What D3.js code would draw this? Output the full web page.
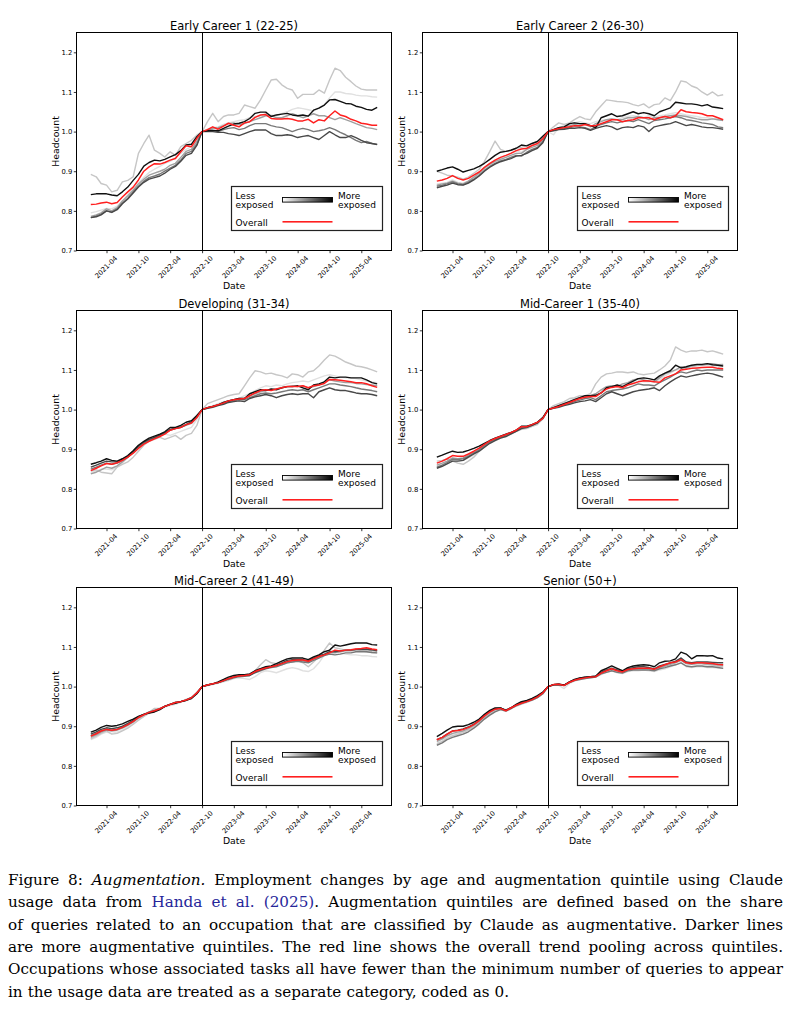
<!DOCTYPE html>
<html>
<head>
<meta charset="utf-8">
<script src="https://cdn.jsdelivr.net/npm/d3@7"></script>
<style>
  body { margin: 0; background: #fff; }
  svg { display: block; }
  text { font-family: "DejaVu Sans", sans-serif; fill: #000; }
  .caption text { font-family: "DejaVu Serif", serif; }
</style>
</head>
<body>
<svg id="fig" width="792" height="1023"></svg>
<script>
// monthly dates, 2021-01 .. 2025-07
const months = d3.timeMonth.range(new Date(2021, 0, 1), new Date(2025, 7, 1));
const tickLabels = ["2021-04", "2021-10", "2022-04", "2022-10", "2023-04", "2023-10", "2024-04", "2024-10", "2025-04"];
const yTicks = [0.7, 0.8, 0.9, 1.0, 1.1, 1.2];
const cutoffLabel = "2022-10";
const titles = ["Early Career 1 (22-25)", "Early Career 2 (26-30)", "Developing (31-34)",
  "Mid-Career 1 (35-40)", "Mid-Career 2 (41-49)", "Senior (50+)"];

// each panel: 6 groups (least -> most exposed) and the overall line
const ec1Groups = [
  [0.795,0.798,0.802,0.806,0.805,0.812,0.825,0.840,0.855,0.870,0.885,
   0.897,0.905,0.912,0.920,0.925,0.935,0.945,0.955,0.962,0.980,1.000,
   1.006,1.010,1.012,1.018,1.022,1.025,1.028,1.030,1.035,1.038,1.040,
   1.045,1.042,1.040,1.045,1.050,1.056,1.060,1.058,1.055,1.052,1.060,
   1.068,1.085,1.100,1.100,1.096,1.095,1.092,1.090,1.090,1.088,1.087],
  [0.892,0.886,0.869,0.865,0.848,0.852,0.873,0.877,0.886,0.945,0.970,
   0.991,0.953,0.945,0.936,0.949,0.940,0.962,0.970,0.978,0.991,1.000,
   1.025,1.046,1.025,1.038,1.042,1.042,1.046,1.067,1.063,1.059,1.080,
   1.105,1.130,1.132,1.118,1.109,1.105,1.084,1.094,1.094,1.094,1.105,
   1.097,1.130,1.160,1.154,1.137,1.126,1.115,1.107,1.105,1.105,1.105],
  [0.786,0.790,0.795,0.805,0.800,0.808,0.825,0.838,0.852,0.868,0.880,
   0.890,0.895,0.900,0.905,0.915,0.920,0.935,0.950,0.955,0.975,1.000,
   1.003,1.008,1.010,1.015,1.020,1.022,1.018,1.020,1.025,1.030,1.035,
   1.040,1.040,1.035,1.035,1.040,1.045,1.040,1.035,1.040,1.045,1.040,
   1.040,1.035,1.030,1.035,1.030,1.025,1.020,1.015,1.010,1.008,1.005],
  [0.783,0.787,0.792,0.800,0.797,0.805,0.820,0.832,0.848,0.862,0.875,
   0.884,0.888,0.893,0.900,0.908,0.915,0.928,0.945,0.950,0.968,1.000,
   1.002,1.003,1.000,1.005,1.008,1.010,1.005,1.008,1.015,1.020,1.020,
   1.020,1.015,1.012,1.010,1.005,1.000,1.005,1.008,1.005,1.000,1.002,
   1.005,1.010,1.005,0.998,0.992,0.985,0.978,0.972,0.975,0.970,0.968],
  [0.783,0.785,0.790,0.800,0.796,0.803,0.818,0.830,0.845,0.860,0.872,
   0.880,0.884,0.888,0.895,0.905,0.912,0.925,0.940,0.945,0.965,1.000,
   1.001,1.000,0.998,0.998,0.995,0.993,0.990,0.995,1.000,1.004,1.004,
   1.004,0.995,0.990,0.990,0.992,0.990,0.985,0.988,0.990,0.985,0.980,
   0.990,1.000,0.992,0.985,0.985,0.990,0.985,0.978,0.972,0.970,0.967],
  [0.841,0.843,0.843,0.843,0.840,0.838,0.848,0.860,0.877,0.892,0.913,
   0.922,0.928,0.926,0.930,0.936,0.942,0.952,0.966,0.968,0.987,1.000,
   1.002,1.003,1.002,1.008,1.014,1.019,1.021,1.025,1.033,1.046,1.049,
   1.049,1.038,1.042,1.044,1.046,1.042,1.040,1.042,1.039,1.054,1.059,
   1.067,1.080,1.081,1.076,1.071,1.070,1.064,1.061,1.056,1.054,1.061]
];
const ec1Overall = [
  0.816,0.817,0.820,0.822,0.818,0.821,0.835,0.848,0.860,0.878,0.900,
  0.911,0.919,0.918,0.922,0.928,0.932,0.949,0.964,0.962,0.983,1.000,
  1.005,1.012,1.006,1.014,1.021,1.016,1.012,1.022,1.025,1.036,1.042,
  1.043,1.033,1.032,1.032,1.033,1.031,1.027,1.027,1.031,1.022,1.030,
  1.027,1.040,1.052,1.042,1.038,1.031,1.027,1.021,1.019,1.016,1.016];

const ec2Groups = [
  [0.868,0.870,0.872,0.878,0.872,0.870,0.875,0.885,0.895,0.905,0.915,
   0.925,0.932,0.938,0.945,0.950,0.948,0.958,0.965,0.968,0.985,1.000,
   0.992,1.010,1.015,1.018,1.022,1.025,1.022,1.020,1.025,1.028,1.030,
   1.032,1.030,1.035,1.038,1.040,1.038,1.035,1.040,1.035,1.040,1.042,
   1.045,1.048,1.045,1.042,1.040,1.038,1.035,1.035,1.033,1.032,1.030],
  [0.900,0.895,0.890,0.888,0.885,0.880,0.885,0.895,0.905,0.925,0.950,
   0.976,0.955,0.950,0.952,0.958,0.960,0.965,0.970,0.975,0.988,1.000,
   1.012,1.022,1.018,1.022,1.030,1.038,1.032,1.030,1.050,1.065,1.080,
   1.078,1.076,1.075,1.073,1.068,1.065,1.070,1.060,1.068,1.070,1.085,
   1.078,1.100,1.128,1.125,1.115,1.110,1.100,1.092,1.100,1.090,1.093],
  [0.865,0.868,0.870,0.875,0.870,0.868,0.875,0.885,0.895,0.908,0.918,
   0.925,0.930,0.935,0.940,0.945,0.945,0.955,0.960,0.965,0.980,1.000,
   1.005,1.010,1.012,1.015,1.018,1.020,1.018,1.012,1.020,1.025,1.030,
   1.032,1.030,1.030,1.035,1.035,1.038,1.035,1.030,1.035,1.035,1.038,
   1.040,1.042,1.040,1.038,1.035,1.032,1.030,1.030,1.032,1.030,1.028],
  [0.862,0.865,0.868,0.873,0.868,0.866,0.872,0.880,0.890,0.902,0.912,
   0.920,0.926,0.930,0.935,0.940,0.938,0.948,0.955,0.960,0.975,1.000,
   1.003,1.006,1.008,1.010,1.012,1.012,1.010,1.005,1.012,1.018,1.022,
   1.025,1.022,1.025,1.028,1.025,1.030,1.025,1.020,1.028,1.030,1.032,
   1.035,1.038,1.035,1.030,1.028,1.025,1.022,1.020,1.018,1.012,1.010],
  [0.858,0.862,0.865,0.870,0.866,0.865,0.870,0.878,0.888,0.900,0.910,
   0.918,0.924,0.928,0.932,0.938,0.940,0.945,0.952,0.958,0.972,1.000,
   1.002,1.005,1.006,1.008,1.008,1.010,1.008,1.003,1.008,1.012,1.015,
   1.012,1.005,1.010,1.012,1.010,1.015,1.012,1.000,1.012,1.015,1.018,
   1.020,1.025,1.020,1.015,1.018,1.015,1.012,1.010,1.010,1.008,1.006],
  [0.900,0.904,0.908,0.911,0.905,0.898,0.902,0.906,0.912,0.920,0.930,
   0.940,0.948,0.950,0.953,0.958,0.966,0.964,0.970,0.975,0.988,1.000,
   1.005,1.010,1.012,1.020,1.022,1.020,1.020,1.015,1.010,1.035,1.040,
   1.045,1.038,1.040,1.045,1.050,1.045,1.048,1.045,1.040,1.050,1.055,
   1.060,1.074,1.072,1.070,1.070,1.068,1.065,1.068,1.062,1.060,1.058]
];
const ec2Overall = [
  0.875,0.878,0.882,0.889,0.882,0.878,0.882,0.890,0.898,0.910,0.920,
  0.928,0.935,0.940,0.945,0.952,0.956,0.958,0.965,0.970,0.982,1.000,
  1.005,1.008,1.010,1.012,1.015,1.015,1.018,1.015,1.015,1.020,1.025,
  1.030,1.030,1.025,1.028,1.030,1.035,1.035,1.035,1.030,1.035,1.038,
  1.035,1.040,1.055,1.050,1.048,1.047,1.045,1.040,1.040,1.035,1.030];

const devGroups = [
  [0.840,0.845,0.850,0.850,0.848,0.855,0.865,0.880,0.895,0.905,0.918,
   0.925,0.930,0.935,0.938,0.935,0.940,0.945,0.950,0.955,0.975,1.000,
   1.005,1.010,1.015,1.020,1.022,1.025,1.028,1.035,1.040,1.048,1.055,
   1.060,1.058,1.062,1.060,1.065,1.068,1.070,1.072,1.070,1.075,1.080,
   1.085,1.088,1.085,1.082,1.080,1.080,1.078,1.075,1.072,1.070,1.068],
  [0.845,0.848,0.842,0.840,0.838,0.855,0.862,0.868,0.880,0.895,0.910,
   0.920,0.925,0.930,0.925,0.930,0.935,0.925,0.935,0.940,0.960,1.000,
   1.015,1.020,1.025,1.030,1.035,1.038,1.040,1.060,1.080,1.098,1.095,
   1.090,1.092,1.088,1.085,1.080,1.090,1.088,1.082,1.095,1.098,1.110,
   1.125,1.138,1.135,1.128,1.120,1.115,1.110,1.108,1.105,1.100,1.095],
  [0.838,0.842,0.848,0.855,0.852,0.858,0.868,0.880,0.892,0.905,0.915,
   0.922,0.928,0.935,0.940,0.948,0.952,0.955,0.960,0.965,0.980,1.000,
   1.005,1.008,1.012,1.018,1.022,1.025,1.028,1.028,1.035,1.040,1.045,
   1.048,1.050,1.052,1.055,1.058,1.060,1.058,1.060,1.055,1.058,1.062,
   1.070,1.075,1.072,1.070,1.068,1.068,1.066,1.065,1.063,1.062,1.060],
  [0.850,0.855,0.860,0.865,0.862,0.865,0.872,0.880,0.892,0.905,0.915,
   0.922,0.928,0.935,0.940,0.948,0.952,0.955,0.962,0.968,0.982,1.000,
   1.004,1.008,1.012,1.015,1.020,1.022,1.025,1.025,1.030,1.035,1.040,
   1.042,1.040,1.042,1.045,1.048,1.050,1.048,1.050,1.045,1.050,1.055,
   1.060,1.065,1.065,1.062,1.060,1.058,1.055,1.052,1.050,1.048,1.045],
  [0.855,0.860,0.865,0.870,0.868,0.868,0.875,0.882,0.895,0.908,0.918,
   0.925,0.930,0.936,0.942,0.950,0.953,0.956,0.962,0.970,0.984,1.000,
   1.003,1.006,1.010,1.013,1.018,1.020,1.022,1.020,1.028,1.032,1.035,
   1.038,1.035,1.030,1.035,1.038,1.040,1.038,1.040,1.040,1.030,1.045,
   1.050,1.055,1.050,1.048,1.048,1.045,1.042,1.040,1.040,1.038,1.035],
  [0.862,0.866,0.870,0.876,0.872,0.870,0.876,0.884,0.896,0.910,0.920,
   0.928,0.933,0.938,0.944,0.955,0.955,0.960,0.968,0.972,0.985,1.000,
   1.005,1.008,1.012,1.018,1.022,1.025,1.028,1.028,1.040,1.045,1.050,
   1.048,1.052,1.050,1.055,1.058,1.058,1.060,1.055,1.050,1.062,1.065,
   1.070,1.082,1.080,1.082,1.082,1.080,1.080,1.080,1.075,1.068,1.065]
];
const devOverall = [
  0.846,0.852,0.858,0.864,0.862,0.866,0.872,0.880,0.890,0.902,0.913,
  0.920,0.926,0.932,0.938,0.948,0.952,0.955,0.962,0.966,0.980,1.000,
  1.005,1.008,1.012,1.017,1.022,1.025,1.027,1.028,1.035,1.042,1.048,
  1.050,1.048,1.052,1.055,1.058,1.058,1.058,1.060,1.055,1.060,1.062,
  1.066,1.076,1.075,1.074,1.072,1.070,1.068,1.068,1.065,1.060,1.056];

const mc1Groups = [
  [0.858,0.862,0.868,0.872,0.870,0.872,0.878,0.885,0.895,0.905,0.915,
   0.922,0.928,0.932,0.938,0.945,0.950,0.955,0.958,0.965,0.975,1.000,
   1.008,1.012,1.018,1.022,1.028,1.030,1.035,1.035,1.040,1.048,1.055,
   1.060,1.058,1.062,1.065,1.068,1.072,1.070,1.070,1.072,1.075,1.085,
   1.092,1.100,1.102,1.105,1.108,1.110,1.112,1.112,1.110,1.110,1.108],
  [0.870,0.872,0.875,0.870,0.865,0.862,0.870,0.880,0.895,0.905,0.918,
   0.925,0.930,0.935,0.940,0.945,0.950,0.952,0.958,0.962,0.978,1.000,
   1.010,1.015,1.020,1.028,1.030,1.035,1.035,1.040,1.065,1.082,1.090,
   1.092,1.095,1.095,1.093,1.095,1.090,1.088,1.090,1.092,1.100,1.110,
   1.125,1.158,1.150,1.145,1.148,1.148,1.150,1.146,1.148,1.144,1.140],
  [0.860,0.865,0.870,0.878,0.876,0.878,0.885,0.892,0.900,0.910,0.920,
   0.925,0.930,0.936,0.942,0.948,0.955,0.955,0.962,0.968,0.978,1.000,
   1.005,1.010,1.015,1.020,1.025,1.030,1.033,1.035,1.040,1.050,1.058,
   1.060,1.058,1.065,1.068,1.075,1.078,1.075,1.072,1.070,1.080,1.090,
   1.095,1.100,1.108,1.105,1.110,1.112,1.112,1.115,1.116,1.113,1.114],
  [0.855,0.860,0.866,0.875,0.874,0.876,0.882,0.890,0.898,0.908,0.918,
   0.924,0.930,0.935,0.940,0.946,0.955,0.955,0.960,0.968,0.980,1.000,
   1.004,1.008,1.012,1.016,1.020,1.024,1.028,1.030,1.025,1.035,1.045,
   1.048,1.050,1.052,1.055,1.060,1.065,1.062,1.062,1.060,1.068,1.075,
   1.082,1.090,1.095,1.092,1.096,1.100,1.098,1.100,1.100,1.100,1.100],
  [0.852,0.857,0.863,0.870,0.870,0.872,0.880,0.888,0.895,0.905,0.915,
   0.922,0.928,0.932,0.938,0.945,0.952,0.955,0.960,0.966,0.978,1.000,
   1.003,1.006,1.010,1.013,1.017,1.020,1.022,1.025,1.020,1.030,1.040,
   1.045,1.040,1.035,1.040,1.045,1.048,1.050,1.052,1.055,1.048,1.060,
   1.070,1.078,1.085,1.082,1.085,1.088,1.090,1.092,1.090,1.086,1.082],
  [0.880,0.885,0.890,0.895,0.892,0.893,0.897,0.902,0.908,0.915,0.922,
   0.928,0.933,0.938,0.942,0.948,0.958,0.958,0.962,0.968,0.980,1.000,
   1.005,1.010,1.015,1.020,1.025,1.030,1.035,1.035,1.036,1.042,1.055,
   1.058,1.062,1.058,1.065,1.072,1.078,1.080,1.078,1.075,1.085,1.092,
   1.098,1.112,1.105,1.108,1.112,1.114,1.114,1.116,1.113,1.112,1.110]
];
const mc1Overall = [
  0.865,0.870,0.876,0.884,0.882,0.882,0.888,0.895,0.903,0.912,0.921,
  0.927,0.932,0.937,0.942,0.948,0.957,0.957,0.962,0.968,0.978,1.000,
  1.004,1.008,1.013,1.018,1.023,1.028,1.031,1.033,1.033,1.042,1.052,
  1.056,1.058,1.055,1.062,1.066,1.070,1.073,1.072,1.070,1.069,1.080,
  1.085,1.090,1.100,1.102,1.104,1.105,1.106,1.107,1.107,1.104,1.103];

const mc2Groups = [
  [0.866,0.872,0.880,0.885,0.882,0.885,0.890,0.898,0.905,0.915,0.925,
   0.932,0.938,0.942,0.948,0.952,0.955,0.960,0.965,0.970,0.985,1.000,
   1.002,1.005,1.008,1.012,1.015,1.020,1.022,1.020,1.018,1.025,1.035,
   1.040,1.038,1.035,1.040,1.045,1.048,1.045,1.040,1.038,1.045,1.060,
   1.080,1.092,1.088,1.085,1.082,1.080,1.080,1.078,1.078,1.076,1.075],
  [0.868,0.875,0.882,0.888,0.880,0.882,0.888,0.895,0.905,0.915,0.925,
   0.935,0.945,0.945,0.950,0.955,0.958,0.962,0.968,0.972,0.985,1.000,
   1.005,1.006,1.010,1.015,1.018,1.022,1.025,1.028,1.030,1.040,1.055,
   1.068,1.060,1.058,1.055,1.060,1.062,1.065,1.060,1.050,1.062,1.075,
   1.092,1.110,1.098,1.095,1.092,1.092,1.095,1.090,1.088,1.086,1.085],
  [0.872,0.878,0.885,0.890,0.888,0.890,0.895,0.902,0.910,0.920,0.928,
   0.935,0.940,0.945,0.950,0.955,0.960,0.962,0.966,0.972,0.985,1.000,
   1.004,1.007,1.010,1.015,1.020,1.024,1.026,1.028,1.030,1.040,1.045,
   1.048,1.050,1.052,1.058,1.062,1.065,1.066,1.065,1.062,1.070,1.075,
   1.080,1.085,1.085,1.088,1.090,1.090,1.092,1.092,1.093,1.090,1.090],
  [0.876,0.882,0.888,0.892,0.890,0.892,0.897,0.904,0.912,0.922,0.930,
   0.936,0.940,0.944,0.950,0.955,0.960,0.962,0.966,0.972,0.984,1.000,
   1.004,1.007,1.010,1.014,1.018,1.022,1.025,1.026,1.028,1.035,1.040,
   1.045,1.048,1.050,1.055,1.060,1.062,1.064,1.062,1.060,1.066,1.072,
   1.078,1.082,1.080,1.082,1.085,1.085,1.088,1.088,1.088,1.086,1.085],
  [0.880,0.886,0.892,0.896,0.894,0.896,0.900,0.907,0.915,0.924,0.930,
   0.934,0.938,0.943,0.950,0.955,0.960,0.962,0.966,0.972,0.983,1.000,
   1.004,1.007,1.010,1.015,1.020,1.024,1.027,1.028,1.028,1.036,1.042,
   1.046,1.050,1.054,1.060,1.066,1.068,1.068,1.068,1.065,1.072,1.078,
   1.082,1.088,1.088,1.090,1.092,1.092,1.094,1.094,1.095,1.093,1.090],
  [0.885,0.890,0.897,0.902,0.900,0.902,0.906,0.912,0.918,0.925,0.930,
   0.933,0.936,0.942,0.950,0.955,0.958,0.962,0.965,0.970,0.982,1.000,
   1.004,1.007,1.012,1.018,1.024,1.028,1.030,1.030,1.032,1.040,1.045,
   1.050,1.052,1.058,1.064,1.070,1.072,1.072,1.072,1.068,1.075,1.080,
   1.088,1.092,1.105,1.102,1.105,1.108,1.110,1.110,1.110,1.106,1.105]
];
const mc2Overall = [
  0.875,0.881,0.888,0.892,0.890,0.892,0.897,0.904,0.912,0.922,0.929,
  0.935,0.939,0.944,0.950,0.955,0.960,0.962,0.966,0.972,0.984,1.000,
  1.004,1.007,1.010,1.015,1.020,1.024,1.027,1.028,1.030,1.038,1.043,
  1.047,1.050,1.053,1.058,1.063,1.066,1.067,1.067,1.064,1.070,1.076,
  1.080,1.085,1.092,1.090,1.092,1.093,1.095,1.096,1.098,1.095,1.093];

const senGroups = [
  [0.860,0.866,0.874,0.880,0.882,0.886,0.892,0.900,0.910,0.922,0.932,
   0.940,0.942,0.938,0.945,0.952,0.956,0.960,0.966,0.972,0.982,1.000,
   1.004,1.003,0.995,1.008,1.014,1.018,1.020,1.022,1.024,1.030,1.036,
   1.040,1.035,1.033,1.038,1.040,1.040,1.042,1.040,1.038,1.042,1.045,
   1.050,1.055,1.060,1.050,1.048,1.050,1.050,1.048,1.048,1.047,1.046],
  [0.856,0.862,0.870,0.876,0.880,0.884,0.890,0.898,0.908,0.920,0.930,
   0.938,0.944,0.942,0.946,0.950,0.956,0.960,0.965,0.972,0.982,1.000,
   1.005,1.006,1.002,1.010,1.016,1.020,1.022,1.024,1.025,1.038,1.044,
   1.048,1.042,1.038,1.044,1.045,1.048,1.046,1.044,1.042,1.048,1.052,
   1.058,1.062,1.072,1.060,1.056,1.058,1.058,1.055,1.054,1.052,1.050],
  [0.862,0.868,0.876,0.882,0.885,0.888,0.894,0.902,0.912,0.924,0.934,
   0.942,0.945,0.940,0.946,0.953,0.958,0.962,0.967,0.974,0.984,1.000,
   1.005,1.006,1.004,1.011,1.016,1.020,1.022,1.024,1.026,1.034,1.040,
   1.044,1.040,1.036,1.042,1.044,1.045,1.045,1.046,1.044,1.048,1.052,
   1.056,1.060,1.066,1.058,1.056,1.058,1.058,1.057,1.056,1.055,1.054],
  [0.852,0.858,0.866,0.872,0.876,0.880,0.886,0.895,0.906,0.918,0.928,
   0.936,0.942,0.938,0.944,0.952,0.957,0.962,0.966,0.972,0.982,1.000,
   1.004,1.005,1.003,1.010,1.015,1.018,1.020,1.022,1.024,1.032,1.036,
   1.040,1.036,1.034,1.040,1.042,1.042,1.042,1.042,1.040,1.045,1.048,
   1.052,1.055,1.060,1.052,1.050,1.052,1.052,1.050,1.050,1.048,1.046],
  [0.866,0.872,0.880,0.888,0.890,0.893,0.898,0.905,0.915,0.928,0.938,
   0.944,0.946,0.940,0.946,0.954,0.960,0.963,0.968,0.975,0.985,1.000,
   1.005,1.006,1.003,1.012,1.017,1.021,1.024,1.025,1.026,1.036,1.042,
   1.046,1.042,1.038,1.045,1.048,1.050,1.050,1.048,1.045,1.052,1.056,
   1.060,1.064,1.072,1.062,1.060,1.062,1.062,1.062,1.061,1.060,1.060],
  [0.874,0.882,0.890,0.898,0.900,0.900,0.904,0.910,0.918,0.930,0.940,
   0.946,0.946,0.940,0.946,0.955,0.962,0.965,0.970,0.977,0.986,1.000,
   1.005,1.006,1.004,1.012,1.018,1.022,1.024,1.025,1.026,1.040,1.046,
   1.052,1.046,1.040,1.048,1.052,1.054,1.055,1.054,1.050,1.060,1.064,
   1.065,1.070,1.087,1.082,1.070,1.078,1.078,1.077,1.078,1.072,1.070]
];
const senOverall = [
  0.866,0.872,0.880,0.888,0.889,0.892,0.897,0.904,0.914,0.926,0.936,
  0.943,0.945,0.939,0.946,0.953,0.958,0.962,0.967,0.974,0.984,1.000,
  1.005,1.006,1.003,1.011,1.016,1.020,1.022,1.024,1.025,1.034,1.040,
  1.045,1.040,1.037,1.043,1.045,1.046,1.046,1.046,1.044,1.050,1.055,
  1.060,1.062,1.068,1.060,1.058,1.060,1.060,1.059,1.058,1.056,1.055];

const captionLines = [
  "Figure 8: _Augmentation._ Employment changes by age and augmentation quintile using Claude",
  "usage data from [Handa] [et] [al.] [(2025)]. Augmentation quintiles are defined based on the share",
  "of queries related to an occupation that are classified by Claude as augmentative. Darker lines",
  "are more augmentative quintiles. The red line shows the overall trend pooling across quintiles.",
  "Occupations whose associated tasks all have fewer than the minimum number of queries to appear",
  "in the usage data are treated as a separate category, coded as 0."
];

const panels = [
  { title: titles[0], groups: ec1Groups, overall: ec1Overall },
  { title: titles[1], groups: ec2Groups, overall: ec2Overall },
  { title: titles[2], groups: devGroups, overall: devOverall },
  { title: titles[3], groups: mc1Groups, overall: mc1Overall },
  { title: titles[4], groups: mc2Groups, overall: mc2Overall },
  { title: titles[5], groups: senGroups, overall: senOverall }
];

// layout (half-pixel offsets keep 1px strokes crisp)
const colLeft = [76.5, 422.5];
const rowTop = [32.5, 310.5, 587.5];
const pw = 315, ph = 218;
const shades = ["#e0e0e0", "#c6c6c6", "#a0a0a0", "#787878", "#484848", "#101010"];
const redColor = "#ff1f1f";

const parseMonth = d3.timeParse("%Y-%m");
const tickDates = tickLabels.map(parseMonth);
const cutoff = parseMonth(cutoffLabel);
const pad = (months[months.length - 1] - months[0]) * 0.05;

const svg = d3.select("#fig");
const defs = svg.append("defs");
const grad = defs.append("linearGradient").attr("id", "exposure");
grad.append("stop").attr("offset", "0%").attr("stop-color", "#fff");
grad.append("stop").attr("offset", "100%").attr("stop-color", "#000");

panels.forEach((p, k) => {
  const col = k % 2, row = Math.floor(k / 2);
  const g = svg.append("g").attr("transform", `translate(${colLeft[col]},${rowTop[row]})`);

  const x = d3.scaleTime()
    .domain([new Date(+months[0] - pad), new Date(+months[months.length - 1] + pad)])
    .range([0, pw]);
  const y = d3.scaleLinear().domain([0.7, 1.25]).range([ph, 0]);

  const line = d3.line().x((d, i) => x(months[i])).y(d => y(d));

  p.groups.forEach((s, j) => {
    g.append("path").datum(s)
      .attr("d", line)
      .attr("fill", "none")
      .attr("stroke", shades[j])
      .attr("stroke-width", 1.4)
      .attr("stroke-linejoin", "round");
  });
  g.append("path").datum(p.overall)
    .attr("d", line)
    .attr("fill", "none")
    .attr("stroke", redColor)
    .attr("stroke-width", 1.5)
    .attr("stroke-linejoin", "round");

  // treatment date
  const cx = Math.round(x(cutoff));
  g.append("line")
    .attr("x1", cx).attr("x2", cx)
    .attr("y1", 0).attr("y2", ph)
    .attr("stroke", "#000").attr("stroke-width", 1);

  // axes
  const xAxis = g.append("g").attr("transform", `translate(0,${ph})`)
    .call(d3.axisBottom(x).tickValues(tickDates).tickFormat(d3.timeFormat("%Y-%m"))
      .tickSize(2.7).tickSizeOuter(0));
  xAxis.select(".domain").remove();
  xAxis.selectAll("line").attr("stroke-width", 0.8);
  xAxis.selectAll("text")
    .attr("x", 0).attr("y", 0).attr("dy", "0.35em")
    .attr("text-anchor", "middle")
    .attr("transform", "translate(-1,16.5) rotate(-45)")
    .style("font-size", "6.8px");

  const yAxis = g.append("g")
    .call(d3.axisLeft(y).tickValues(yTicks).tickFormat(d3.format(".1f"))
      .tickSize(2.7).tickPadding(1.5).tickSizeOuter(0));
  yAxis.select(".domain").remove();
  yAxis.selectAll("line").attr("stroke-width", 0.8);
  yAxis.selectAll("text").style("font-size", "6.8px");

  // frame
  g.append("rect")
    .attr("width", pw).attr("height", ph)
    .attr("fill", "none").attr("stroke", "#000").attr("stroke-width", 1);

  // title and labels
  g.append("text")
    .attr("x", pw / 2).attr("y", -2.5)
    .attr("text-anchor", "middle")
    .style("font-size", "11.5px")
    .text(p.title);
  g.append("text")
    .attr("x", pw / 2).attr("y", ph + 38)
    .attr("text-anchor", "middle")
    .style("font-size", "9.3px")
    .text("Date");
  g.append("text")
    .attr("transform", `translate(-21,${ph / 2}) rotate(-90)`)
    .attr("dy", "0.35em")
    .attr("text-anchor", "middle")
    .style("font-size", "9.3px")
    .text("Headcount");

  // legend
  const lw = 151, lh = 44;
  const lg = g.append("g").attr("transform", `translate(${pw - 9 - lw},${ph - 20 - lh})`);
  lg.append("rect").attr("width", lw).attr("height", lh)
    .attr("fill", "#fff").attr("stroke", "#222").attr("stroke-width", 1.2);
  const lt = (tx, ty, s) => lg.append("text").attr("x", tx).attr("y", ty)
    .style("font-size", "9px").text(s);
  lt(4, 12.3, "Less");
  lt(4, 21.5, "exposed");
  lt(106.5, 12.3, "More");
  lt(106.5, 21.5, "exposed");
  lt(4, 39, "Overall");
  lg.append("rect").attr("x", 51).attr("y", 11).attr("width", 50).attr("height", 4.6)
    .attr("fill", "url(#exposure)").attr("stroke", "#000").attr("stroke-width", 0.9);
  lg.append("rect").attr("x", 51).attr("y", 34.5).attr("width", 50).attr("height", 1.6)
    .attr("fill", redColor);
});

// caption, justified line by line
const cap = svg.append("g").attr("class", "caption");
const capLeft = 8, capRight = 783, capTop = 885, capStep = 22.35, capSize = 15.2;
captionLines.forEach((ln, li) => {
  const words = ln.split(" ");
  const yy = capTop + li * capStep;
  const nodes = words.map(w => {
    const t = cap.append("text").attr("y", yy).style("font-size", capSize + "px");
    w.split(/(\[[^\]]*\]|_[^_]*_)/).filter(Boolean).forEach(piece => {
      const ts = t.append("tspan");
      if (piece[0] === "[") ts.text(piece.slice(1, -1)).style("fill", "#26269a");
      else if (piece[0] === "_") ts.text(piece.slice(1, -1)).style("font-style", "italic");
      else ts.text(piece);
    });
    return t;
  });
  const widths = nodes.map(t => t.node().getComputedTextLength());
  const total = d3.sum(widths);
  const last = li === captionLines.length - 1;
  const gap = last ? capSize * 0.33 : (capRight - capLeft - total) / (words.length - 1);
  let cx = capLeft;
  nodes.forEach((t, i) => {
    t.attr("x", cx);
    cx += widths[i] + gap;
  });
});
</script>
</body>
</html>
